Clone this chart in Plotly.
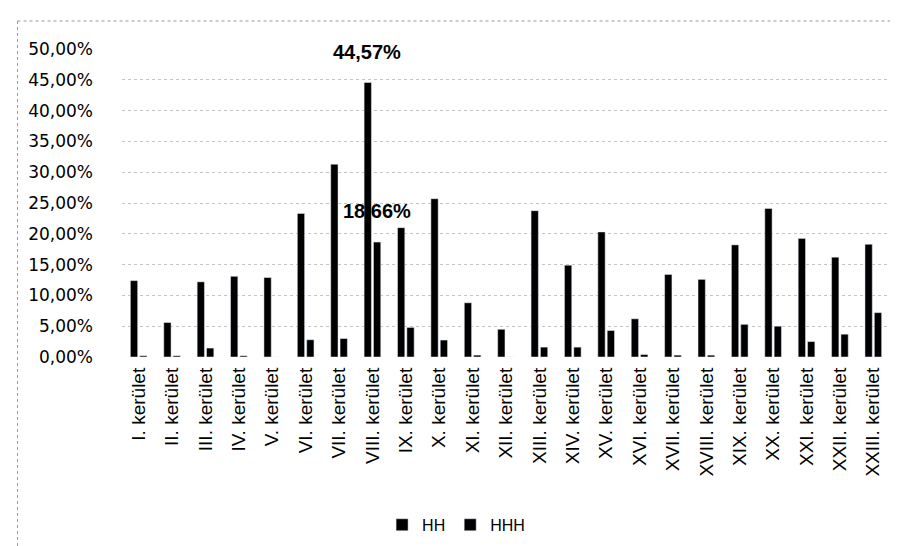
import plotly.graph_objects as go

districts = ["I. kerület", "II. kerület", "III. kerület", "IV. kerület", "V. kerület",
             "VI. kerület", "VII. kerület", "VIII. kerület", "IX. kerület", "X. kerület",
             "XI. kerület", "XII. kerület", "XIII. kerület", "XIV. kerület", "XV. kerület",
             "XVI. kerület", "XVII. kerület", "XVIII. kerület", "XIX. kerület", "XX. kerület",
             "XXI. kerület", "XXII. kerület", "XXIII. kerület"]

hh = [0.124, 0.056, 0.122, 0.131, 0.129, 0.233, 0.313, 0.4457, 0.210, 0.257,
      0.088, 0.045, 0.2375, 0.149, 0.203, 0.062, 0.134, 0.126, 0.182, 0.241,
      0.1925, 0.162, 0.183]
hhh = [0.002, 0.002, 0.0145, 0.002, 0.0, 0.028, 0.030, 0.1866, 0.048, 0.0275,
       0.003, 0.0, 0.016, 0.016, 0.043, 0.004, 0.003, 0.003, 0.053, 0.050,
       0.025, 0.037, 0.072]

labelled = "VIII. kerület"
li = districts.index(labelled)

fig = go.Figure()
fig.add_trace(go.Bar(name="HH", x=districts, y=hh, marker_color="black"))
fig.add_trace(go.Bar(name="HHH", x=districts, y=hhh, marker_color="black"))

label_font = dict(family="Liberation Sans", size=20, color="black")
annotations = [
    dict(x=districts[li], y=hh[li], xref="x", yref="y", text="<b>44,57%</b>",
         showarrow=False, xshift=-5, yshift=30, yanchor="middle", font=label_font),
    dict(x=districts[li], y=hhh[li], xref="x", yref="y", text="<b>18,66%</b>",
         showarrow=False, xshift=5, yshift=31, yanchor="middle", font=label_font),
]

border = dict(color="#999999", width=1, dash="dot")

fig.update_layout(
    width=898, height=546,
    margin=dict(l=114, r=16, t=41, b=197),
    paper_bgcolor="white", plot_bgcolor="white",
    separators=", ",
    barmode="group", bargap=0.44, bargroupgap=0.22,
    showlegend=True,
    legend=dict(orientation="h", x=0.435, xanchor="center", y=-0.545, yanchor="middle",
                font=dict(family="Liberation Sans", size=16, color="black"),
                itemwidth=30, traceorder="normal"),
    xaxis=dict(range=[-0.5, 22.5], tickangle=-90, showgrid=False, ticks="",
               showline=False, ticklabelstandoff=6,
               tickfont=dict(family="Liberation Sans", size=19, color="black")),
    yaxis=dict(range=[0, 0.5], dtick=0.05, tickformat=".2%", ticks="",
               showgrid=True, gridcolor="#c4c4c4", griddash="dot", gridwidth=1,
               zeroline=False, showline=False, ticklabelstandoff=28,
               tickfont=dict(family="DejaVu Sans", size=17, color="black")),
    font=dict(family="Liberation Sans", color="black"),
    annotations=annotations,
    shapes=[
        dict(type="line", xref="paper", yref="paper",
             x0=-0.136, x1=1.03, y0=1.0909, y1=1.0909, line=border),
        dict(type="line", xref="paper", yref="paper",
             x0=-0.136, x1=-0.136, y0=1.0909, y1=-0.64, line=border),
    ],
)

fig.write_html("out.html")
